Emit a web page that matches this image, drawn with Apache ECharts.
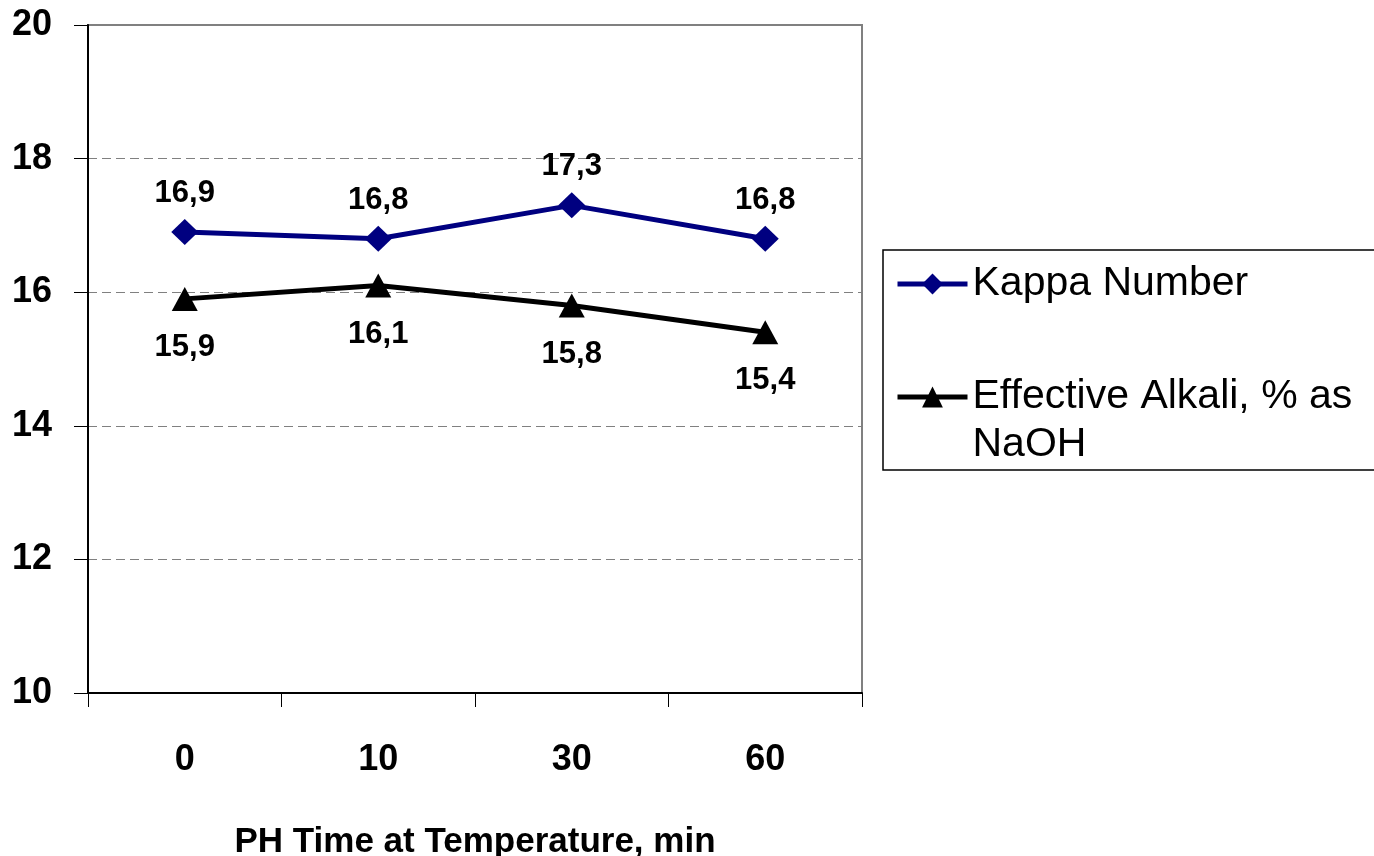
<!DOCTYPE html>
<html>
<head>
<meta charset="utf-8">
<script src="https://cdn.jsdelivr.net/npm/echarts@6/dist/echarts.min.js"></script>
<style>
  html, body { margin: 0; padding: 0; background: #fff; }
  #chart { width: 1374px; height: 856px; }
</style>
</head>
<body>
<div id="chart"></div>
<script>
// Pre-hydrolysis time at temperature (min)
const categories = ['0', '10', '30', '60'];
// Kappa number of the pulp
const kappaNumber = [16.9, 16.8, 17.3, 16.8];
// Effective alkali charge, % as NaOH
const effectiveAlkali = [15.9, 16.1, 15.8, 15.4];

const kappaName = 'Kappa Number';
const alkaliName = 'Effective Alkali, % as NaOH';

const fontFamily = '"Liberation Sans", Arial, sans-serif';

const chart = echarts.init(document.getElementById('chart'), null, { renderer: 'canvas' });

// decimal comma
const fmt = p => String(p.value).replace('.', ',');

chart.setOption({
  animation: false,
  backgroundColor: '#ffffff',
  grid: {
    left: 88, right: 512, top: 25, bottom: 163,
    outerBoundsMode: 'none',
    containLabel: false,
    show: true, borderColor: '#808080', borderWidth: 2,
    backgroundColor: 'transparent'
  },
  legend: {
    orient: 'vertical',
    left: 883, top: 250,
    padding: [10, 40, 1, 12],
    borderColor: '#000', borderWidth: 1.5,
    itemWidth: 70, itemHeight: 26, itemGap: 17,
    lineStyle: { width: 5 },
    textStyle: { fontFamily: fontFamily, fontSize: 41, color: '#000', lineHeight: 48 },
    // the wrapped entry gets an empty first line so its icon sits beside the first text line
    formatter: name => name === alkaliName ? '\nEffective Alkali, % as\nNaOH' : name,
    data: [kappaName, alkaliName]
  },
  xAxis: {
    type: 'category',
    data: categories,
    boundaryGap: true,
    name: 'PH Time at Temperature, min',
    nameLocation: 'middle',
    nameGap: 132,
    nameTextStyle: { fontFamily: fontFamily, fontWeight: 'bold', fontSize: 35, color: '#000' },
    axisLine: { lineStyle: { color: '#000', width: 2 } },
    axisTick: { show: true, length: 14, lineStyle: { color: '#000', width: 1 } },
    axisLabel: { margin: 49, fontFamily: fontFamily, fontWeight: 'bold', fontSize: 36, color: '#000' },
    splitLine: { show: false }
  },
  yAxis: {
    type: 'value',
    min: 10, max: 20, interval: 2,
    axisLine: { show: true, lineStyle: { color: '#000', width: 2 } },
    axisTick: { show: true, length: 14, lineStyle: { color: '#000', width: 1 } },
    axisLabel: { margin: 36, fontFamily: fontFamily, fontWeight: 'bold', fontSize: 36, color: '#000' },
    splitLine: { show: true, lineStyle: { color: '#808080', width: 1, type: [9, 5] } }
  },
  series: [
    {
      name: kappaName,
      type: 'line',
      data: kappaNumber,
      symbol: 'diamond',
      symbolSize: [27, 26],
      lineStyle: { color: '#000080', width: 5 },
      itemStyle: { color: '#000080' },
      label: {
        show: true, position: 'top', distance: 10, formatter: fmt,
        fontFamily: fontFamily, fontWeight: 'bold', fontSize: 31, color: '#000'
      },
      z: 3
    },
    {
      name: alkaliName,
      type: 'line',
      data: effectiveAlkali,
      symbol: 'triangle',
      symbolSize: [26, 24],
      lineStyle: { color: '#000', width: 5 },
      itemStyle: { color: '#000' },
      label: {
        show: true, position: 'bottom', distance: 21, formatter: fmt,
        fontFamily: fontFamily, fontWeight: 'bold', fontSize: 31, color: '#000'
      },
      z: 3
    }
  ]
});
</script>
</body>
</html>
